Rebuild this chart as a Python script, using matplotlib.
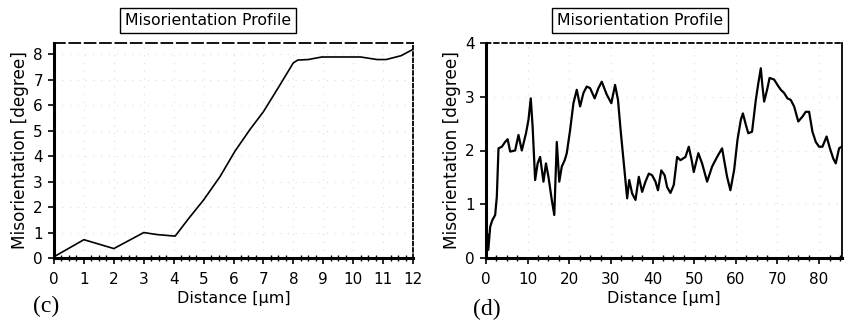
import matplotlib
matplotlib.use("Agg")
import matplotlib.pyplot as plt
from matplotlib.ticker import MultipleLocator

# ---- data (c) ----
c_dist = [0.0, 1.0, 2.0, 3.0, 3.45, 4.05, 4.5, 5.0, 5.55, 6.05, 6.55, 7.0, 7.5,
          8.0, 8.15, 8.5, 8.95, 10.25, 10.8, 11.1, 11.6, 12.0]
c_mis = [0.05, 0.72, 0.37, 1.0, 0.92, 0.86, 1.55, 2.28, 3.2, 4.2, 5.05, 5.75, 6.7,
         7.67, 7.78, 7.8, 7.9, 7.9, 7.8, 7.8, 7.95, 8.2]

# ---- data (d) ----
d_dist = [0.0, 0.3, 0.55, 1.0, 1.5, 2.2, 2.6, 3.0, 3.8, 4.6, 5.2, 5.8, 7.0, 7.8, 8.6,
          9.6, 10.2, 10.75, 11.2, 11.8, 12.4, 13.0, 13.8, 14.4, 15.0, 15.8, 16.4,
          17.0, 17.6, 18.2, 18.9, 19.4, 20.2, 21.0, 21.8, 22.6, 23.4, 24.2, 25.0,
          26.1, 27.0, 27.8, 29.0, 30.1, 31.0, 31.7, 32.4, 33.1, 33.9, 34.4, 35.1,
          35.9, 36.7, 37.5, 38.3, 39.1, 39.9, 40.7, 41.3, 42.1, 42.9, 43.5, 44.3,
          45.1, 45.9, 46.7, 47.9, 48.7, 49.4, 49.9, 51.0, 51.9, 53.1, 54.3, 55.5,
          56.7, 57.9, 58.7, 59.6, 60.4, 61.2, 61.7, 62.4, 63.0, 63.9, 64.8, 65.4,
          66.0, 66.4, 66.8, 67.6, 68.1, 69.2, 70.0, 70.8, 71.6, 72.4, 73.2, 74.0,
          75.0, 76.0, 76.8, 77.6, 78.4, 79.2, 80.0, 80.8, 81.8, 82.6, 83.4, 84.0,
          84.8, 85.4]
d_mis = [0.14, 0.45, 0.15, 0.58, 0.7, 0.8, 1.14, 2.04, 2.07, 2.16, 2.21, 1.98, 2.0,
         2.29, 2.0, 2.32, 2.57, 2.97, 2.44, 1.45, 1.76, 1.88, 1.42, 1.76, 1.51, 1.08,
         0.8, 2.16, 1.42, 1.7, 1.82, 1.95, 2.38, 2.88, 3.13, 2.82, 3.07, 3.19, 3.16,
         2.97, 3.16, 3.28, 3.04, 2.88, 3.22, 2.94, 2.32, 1.76, 1.11, 1.45, 1.2, 1.08,
         1.51, 1.23, 1.42, 1.57, 1.54, 1.42, 1.26, 1.63, 1.54, 1.32, 1.21, 1.36,
         1.88, 1.82, 1.88, 2.07, 1.82, 1.6, 1.95, 1.76, 1.42, 1.7, 1.88, 2.04, 1.51,
         1.26, 1.64, 2.2, 2.57, 2.69, 2.48, 2.32, 2.35, 2.94, 3.25, 3.53, 3.19, 2.91,
         3.16, 3.35, 3.32, 3.22, 3.13, 3.07, 2.97, 2.94, 2.82, 2.54, 2.63, 2.72,
         2.72, 2.35, 2.16, 2.07, 2.07, 2.26, 2.04, 1.85, 1.76, 2.04, 2.07]

title_text = "Misorientation Profile"
xlabel_text = "Distance [\u00b5m]"
ylabel_text = "Misorientation [degree]"

plt.rcParams['font.family'] = ['DejaVu Sans']
W, H = 846, 329
fig = plt.figure(figsize=(W / 100, H / 100), dpi=100)


def fx(px):
    return px / W


def fy(py):
    return 1 - py / H


def style_axes(ax, top_dash, right_dash):
    ax.spines['left'].set_linewidth(2.2)
    ax.spines['bottom'].set_linewidth(2.2)
    ax.spines['top'].set_linewidth(1.3)
    ax.spines['right'].set_linewidth(1.3)
    if top_dash is not None:
        ax.spines['top'].set_linestyle(top_dash)
    if right_dash is not None:
        ax.spines['right'].set_linestyle(right_dash)
    ax.tick_params(axis='both', which='major', direction='out', length=4,
                   width=1.2, labelsize=11, pad=4, top=False, right=False)
    ax.tick_params(axis='x', which='minor', direction='inout', length=4,
                   width=1.0, top=False)
    ax.tick_params(axis='x', which='major', pad=6)
    ax.grid(True, which='major', color='#dcdcdc', linestyle=(0, (1, 6)),
            linewidth=0.8)
    ax.set_xlabel(xlabel_text, fontsize=11.5, labelpad=3)
    ax.set_ylabel(ylabel_text, fontsize=12.2, labelpad=3)


# ---- panel (c) ----
ax1 = fig.add_axes([fx(54), fy(258), fx(413 - 54), (258 - 43) / H])
ax1.plot(c_dist, c_mis, color='black', linewidth=1.2)
ax1.set_xlim(0, 12)
ax1.set_ylim(0, 8.45)
ax1.xaxis.set_major_locator(MultipleLocator(1))
ax1.xaxis.set_minor_locator(MultipleLocator(0.25))
ax1.yaxis.set_major_locator(MultipleLocator(1))
style_axes(ax1, (0, (6, 2.5)), (0, (2, 1.5)))

# ---- panel (d) ----
ax2 = fig.add_axes([fx(486), fy(258), fx(842 - 486), (258 - 43) / H])
ax2.plot(d_dist, d_mis, color='black', linewidth=1.6)
ax2.set_xlim(0, 85.5)
ax2.set_ylim(0, 4)
ax2.xaxis.set_major_locator(MultipleLocator(10))
ax2.xaxis.set_minor_locator(MultipleLocator(2.5))
ax2.yaxis.set_major_locator(MultipleLocator(1))
style_axes(ax2, (0, (2.5, 2)), None)

# ---- titles in boxes ----
box = dict(boxstyle='square,pad=0.33', facecolor='white', edgecolor='black',
           linewidth=1.0)
fig.text(fx(208), fy(20.5), title_text, ha='center', va='center', fontsize=11.3,
         bbox=box)
fig.text(fx(640), fy(20.5), title_text, ha='center', va='center', fontsize=11.3,
         bbox=box)

# ---- panel letters ----
fig.text(fx(33), fy(306), "(c)", ha='left', va='center', fontsize=17,
         family='Liberation Serif')
fig.text(fx(473), fy(309), "(d)", ha='left', va='center', fontsize=17,
         family='Liberation Serif')

fig.savefig("out.png", dpi=100)
